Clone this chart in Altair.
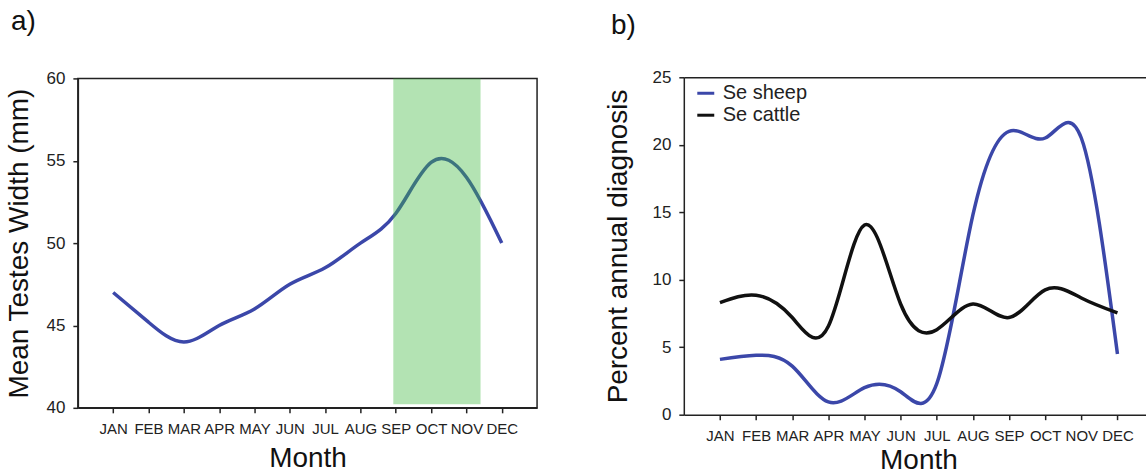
import json
import altair as alt
import pandas as pd

FONT = "Liberation Sans"

# ---------------- data ----------------
months = ["JAN", "FEB", "MAR", "APR", "MAY", "JUN", "JUL", "AUG", "SEP", "OCT", "NOV", "DEC"]
month_num = list(range(1, 13))

testes_width = [47.0, 45.2, 44.0, 45.0, 46.0, 47.5, 48.5, 50.0, 51.8, 54.9, 54.0, 50.0]

sheep = [4.1, 4.4, 3.6, 0.95, 2.0, 1.7, 2.3, 14.8, 21.0, 20.5, 20.5, 4.5]
cattle = [8.3, 8.85, 7.2, 6.55, 14.05, 8.2, 6.3, 8.2, 7.2, 9.25, 8.65, 7.55]
series_names = ["Se sheep", "Se cattle"]

band_start = [8.93]
band_end = [11.4]
band_low = [40.22]
band_high = [60.0]

BLUE = "#3b47a9"
BLACK = "#111111"
AXIS = "#222222"

label_expr = json.dumps(months) + "[datum.value - 1]"

df_a = pd.DataFrame({"m": month_num, "w": testes_width})
df_band = pd.DataFrame({"x": band_start, "x2": band_end, "y": band_low, "y2": band_high})
df_b = pd.DataFrame({
    "m": month_num * 2,
    "v": sheep + cattle,
    "s": [series_names[0]] * 12 + [series_names[1]] * 12,
})


def x_axis(title_pad, title_x=None):
    kw = dict(
        values=month_num, labelExpr=label_expr, title="Month", grid=False,
        labelFontSize=15, labelPadding=9, tickSize=5, titleFontSize=28,
        titlePadding=title_pad, titleFontWeight="normal",
    )
    if title_x is not None:
        kw["titleX"] = title_x
    return alt.Axis(**kw)


def y_axis(title, vals, pad):
    return alt.Axis(
        values=vals, title=title, grid=False, labelFontSize=17, labelPadding=8,
        tickSize=5, titleFontSize=28, titlePadding=pad, titleFontWeight="normal",
    )


# ---------------- panel a ----------------
xa = alt.Scale(domain=[0, 13], nice=False, zero=False)
ya = alt.Scale(domain=[40, 60], nice=False, zero=False)

line_a = alt.Chart(df_a).mark_line(color=BLUE, strokeWidth=3.5, interpolate="natural").encode(
    x=alt.X("m:Q", scale=xa, axis=x_axis(8)),
    y=alt.Y("w:Q", scale=ya, axis=y_axis("Mean Testes Width (mm)", [40, 45, 50, 55, 60], 13)),
)
band = alt.Chart(df_band).mark_rect(color="#41b941", opacity=0.4).encode(
    x=alt.X("x:Q", scale=xa), x2="x2:Q",
    y=alt.Y("y:Q", scale=ya), y2="y2:Q",
)
panel_a = alt.layer(line_a, band).properties(
    width=460, height=330,
    view=alt.ViewBackground(stroke=AXIS, strokeWidth=1.5),
    title=alt.TitleParams("a)", anchor="start", frame="bounds", fontSize=28,
                          fontWeight="normal", font=FONT, dx=6, offset=33),
)

# ---------------- panel b ----------------
xb = alt.Scale(domain=[0, 12.79], nice=False, zero=False)
yb = alt.Scale(domain=[0, 25], nice=False, zero=False)

lines_b = alt.Chart(df_b).mark_line(strokeWidth=3.5, interpolate="natural").encode(
    x=alt.X("m:Q", scale=xb, axis=x_axis(3, 235)),
    y=alt.Y("v:Q", scale=yb, axis=y_axis("Percent annual diagnosis", [0, 5, 10, 15, 20, 25], 19)),
    color=alt.Color("s:N", sort=series_names,
                    scale=alt.Scale(domain=series_names, range=[BLUE, BLACK]),
                    legend=alt.Legend(title=None, orient="none", legendX=12, legendY=6,
                                      labelFontSize=20, symbolType="stroke", symbolSize=289,
                                      symbolStrokeWidth=3, labelOffset=7, rowPadding=2,
                                      padding=0)),
    detail="s:N",
)
top_line = alt.Chart(df_b).mark_point(opacity=0).encode(
    x=alt.X("m:Q", scale=xb, axis=alt.Axis(orient="top", labels=False, ticks=False,
                                           title=None, grid=False)),
    y=alt.value(0),
)
panel_b = alt.layer(lines_b, top_line).resolve_axis(x="independent").properties(
    width=463, height=338,
    view=alt.ViewBackground(stroke=None),
    title=alt.TitleParams("b)", anchor="start", frame="bounds", fontSize=28,
                          fontWeight="normal", font=FONT, dx=6, offset=28),
)

chart = alt.hconcat(panel_a, panel_b, spacing=67, center=True).resolve_scale(
    color="independent"
).properties(
    padding={"left": 4, "top": 7, "right": 0, "bottom": 0},
).configure_axis(
    labelFont=FONT, titleFont=FONT, domainColor=AXIS, tickColor=AXIS,
    domainWidth=1.5, tickWidth=1.5, labelColor="#222", titleColor="#111",
).configure_legend(labelFont=FONT, labelColor="#222").configure_view(
    stroke=AXIS, strokeWidth=1.5
).configure_title(color="#111")

chart.save("out.html", embed_options={"renderer": "svg", "actions": False})
